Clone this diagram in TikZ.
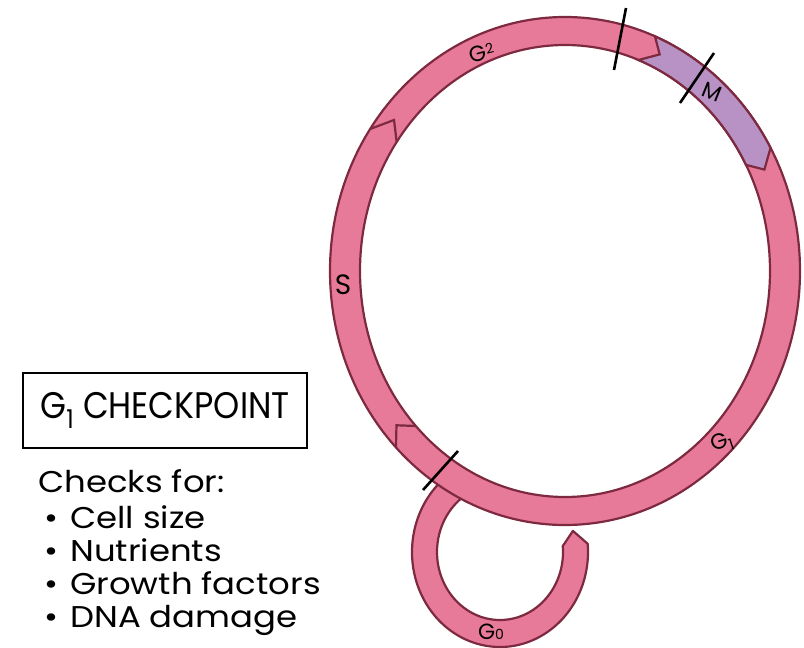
\documentclass[tikz,border=0pt]{standalone}
\usepackage{fontspec}
\setmainfont{Poppins}
\definecolor{cpink}{RGB}{232,122,153}
\definecolor{cline}{RGB}{125,42,64}
\definecolor{cpurple}{RGB}{184,146,197}
\begin{document}
\begin{tikzpicture}[x=1pt,y=-1pt,
  band/.style={fill=cpink,draw=cline,line width=2.2pt,line join=round},
  edge/.style={draw=cline,line width=2.2pt},
  tick/.style={draw=black,line width=2.6pt},
  lab/.style={font=\fontsize{22}{22}\selectfont, inner sep=0pt},
  body/.style={font=\fontsize{30}{30}\selectfont, anchor=base west, inner sep=0pt, xscale=1.13}]
\useasboundingbox (0,0) rectangle (804,648);
% G0 loop (behind the ring)
\begin{scope}[shift={(500,552)}]
  \draw[band] (240:88 and 95) arc[start angle=240,end angle=-5,x radius=88,y radius=95]
    -- (-15:75.5 and 81.5) -- (-5:63 and 68)
    arc[start angle=-5,end angle=240,x radius=63,y radius=68] -- cycle;
\end{scope}
% main ring
\begin{scope}[shift={(565,271)}]
  \fill[cpink,even odd rule] (0,0) ellipse[x radius=235,y radius=254]
        (0,0) ellipse[x radius=205,y radius=226];
  \draw[edge] (0,0) ellipse[x radius=235,y radius=254];
  \draw[edge] (0,0) ellipse[x radius=205,y radius=226];
  % M segment
  \draw[fill=cpurple,draw=cline,line width=2.2pt,line join=miter]
    (292.5:235 and 254) arc[start angle=292.5,end angle=331,x radius=235,y radius=254]
    -- (335:220 and 240) -- (332:205 and 226)
    arc[start angle=332,end angle=291,x radius=205,y radius=226]
    -- (295.5:220 and 240) -- cycle;
  % chevrons
  \draw[edge] (214:235 and 254) -- (219:220 and 240) -- (214.8:205 and 226);
  \draw[edge] (136:235 and 254) -- (140:220 and 240) -- (136.7:205 and 226);
\end{scope}
% checkpoints
\draw[tick] (614,70) -- (626,8);
\draw[tick] (680,103) -- (714,53);
\draw[tick] (423,490) -- (458,451);
% phase labels
\node[lab, rotate=15] (g2) at (482,53) {G\raisebox{.25em}{\fontsize{14}{14}\selectfont 2}};
\node[lab, rotate=-22] (m) at (712,92) {M};
\node[lab, font=\fontsize{28}{28}\selectfont] (s) at (343,285) {S};
\node[lab, rotate=18] (g1) at (722,443) {G\textsubscript{1}};
\node[lab] (g0) at (491,632) {G{\fontsize{14}{14}\selectfont 0}};
% checkpoint box
\node[draw=black, line width=2.4pt, minimum width=284pt, minimum height=75pt, inner sep=0pt] (box) at (165,410.5) {};
\node[font=\fontsize{37}{37}\selectfont, xscale=0.9, inner sep=0pt] (title) at (box.center) {G\textsubscript{1} CHECKPOINT};
\node[body] (chk) at (38,492) {Checks for:};
\node[body] (b1) at (44,528) {•};
\node[body] (t1) at (70,528) {Cell size};
\node[body] (b2) at (44,561) {•};
\node[body] (t2) at (70,561) {Nutrients};
\node[body] (b3) at (44,594) {•};
\node[body] (t3) at (70,594) {Growth factors};
\node[body] (b4) at (44,627) {•};
\node[body] (t4) at (70,627) {DNA damage};
\end{tikzpicture}
\end{document}
